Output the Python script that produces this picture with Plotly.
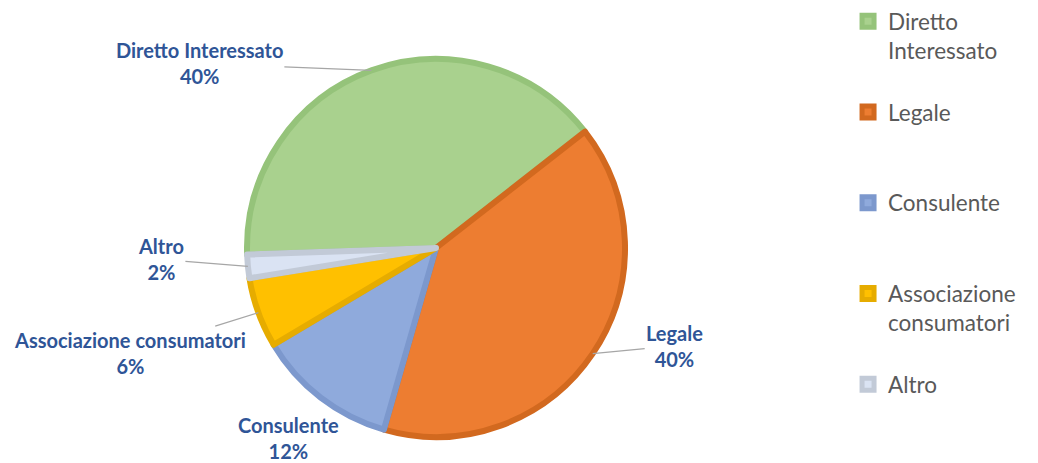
import math
import plotly.graph_objects as go

categories = ["Diretto Interessato", "Legale", "Consulente", "Associazione consumatori", "Altro"]
legend_labels = ["Diretto<br>Interessato<br> ", "Legale<br> <br> ", "Consulente<br> <br> ", "Associazione<br>consumatori<br> ", "Altro"]
values = [40, 40, 12, 6, 2]
fill_colors = ["#A9D18E", "#ED7D31", "#8FAADC", "#FFC000", "#DAE3F3"]
line_colors = ["#95C37A", "#D2691F", "#7C98CD", "#E6AC00", "#C2CAD7"]

W, H = 1038, 463
cx, cy, r = 436, 248, 189
rotation = 268

dom_x = [(cx - r) / W, (cx + r) / W]
dom_y = [1 - (cy + r) / H, 1 - (cy - r) / H]

fig = go.Figure(go.Pie(
    labels=legend_labels,
    values=values,
    sort=False,
    direction="clockwise",
    rotation=rotation,
    textinfo="none",
    hoverinfo="none",
    marker=dict(colors=fill_colors, line=dict(color=line_colors, width=6)),
    domain=dict(x=dom_x, y=dom_y),
))

# label offsets (pixels, text centre relative to slice edge point)
offsets = [(-172, -7), (82, -8), (-32, 40), (-128, 40), (-87, -7)]
show_leader = [True, True, False, True, True]

total = sum(values)
acc = 0
for cat, v, (ax, ay), lead in zip(categories, values, offsets, show_leader):
    mid = math.radians(rotation + (acc + v / 2) / total * 360)
    acc += v
    px = cx + r * math.sin(mid)
    py = cy - r * math.cos(mid)
    pct = round(v / total * 100)
    fig.add_annotation(
        x=px / W, y=1 - py / H, xref="paper", yref="paper",
        text=f"{cat}<br>{pct}%",
        showarrow=True, arrowhead=0, arrowwidth=1.2,
        arrowcolor="#A6A6A6" if lead else "rgba(0,0,0,0)",
        ax=ax, ay=ay, standoff=0,
        font=dict(family="Lato", size=20, color="#2F5597", weight="bold"),
        align="center",
    )

fig.update_layout(
    width=W, height=H,
    margin=dict(l=0, r=0, t=0, b=0),
    paper_bgcolor="white",
    plot_bgcolor="white",
    showlegend=True,
    legend=dict(
        x=0.817, y=1.0, xanchor="left", yanchor="top",
        font=dict(family="Lato", size=22.5, color="#595959"),
        traceorder="normal",
        valign="top",
        itemclick=False,
    ),
)

fig.write_html("out.html", config={"displayModeBar": False},
               post_script="document.body.style.margin='0';")
